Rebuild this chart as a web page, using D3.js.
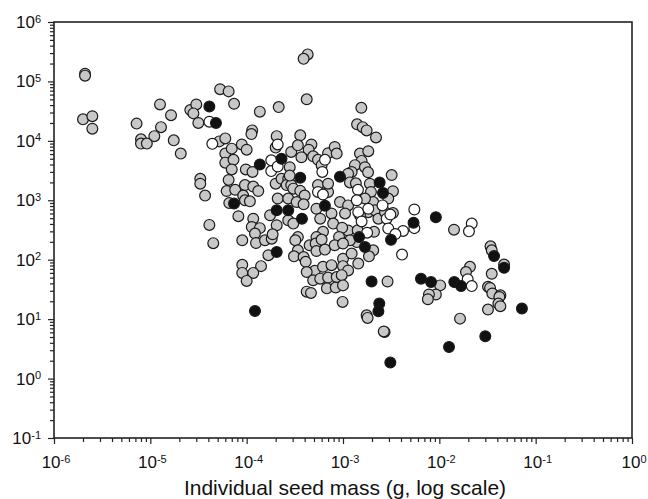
<!DOCTYPE html>
<html>
<head>
<meta charset="utf-8">
<script src="https://cdn.jsdelivr.net/npm/d3@7"></script>
<style>
  body { margin: 0; background: #fff; }
  svg { display: block; font-family: "Liberation Sans", Arial, sans-serif; }
</style>
</head>
<body>
<div class="chart-container"></div>
<script>
// seed mass (g) vs. value
var grayPoints = [
  [2.1e-6,1.35e5],[2.1e-6,1.25e5],[2.0e-6,2.3e4],[2.5e-6,2.6e4],[2.5e-6,1.6e4],
  [7.2e-6,1.95e4],[1.26e-5,4.1e4],[1.64e-5,2.7e4],[1.29e-5,1.7e4],[1.1e-5,1.2e4],
  [8.0e-6,1.06e4],[8.0e-6,9.0e3],[9.2e-6,9.0e3],[1.75e-5,1.02e4],[2.07e-5,6.1e3],
  [2.6e-5,3.3e4],[3.0e-5,4.1e4],[2.8e-5,2.9e4],[3.15e-5,2.0e4],[5.3e-5,7.4e4],
  [5.2e-5,9.8e3],[6.0e-5,1.1e4],[6.0e-5,6.1e3],[6.0e-5,4.3e3],
  [3.3e-5,2.3e3],[3.3e-5,1.9e3],[3.7e-5,1.2e3],[4.1e-5,385],[4.5e-5,190],
  [4.3e-4,2.85e5],[3.9e-4,2.4e5],[6.5e-5,6.8e4],[7.4e-5,4.2e4],[1.37e-4,3.1e4],
  [2.15e-4,3.7e4],[4.2e-4,5.0e4],[1.55e-3,3.6e4],[1.14e-4,1.5e4],[1.12e-4,1.3e4],
  [2.05e-4,1.2e4],[3.6e-4,1.24e4],[1.4e-3,1.9e4],[1.6e-3,1.7e4],[1.76e-3,1.5e4],[2.2e-3,1.14e4],
  [7.0e-5,7.4e3],[8.9e-5,8.7e3],[1.0e-4,7.1e3],[7.3e-5,4.8e3],[7.0e-5,3.3e3],
  [2.9e-4,6.5e3],[2.8e-4,3.6e3],[9.8e-5,3.3e3],[1.15e-4,3.0e3],[2.0e-4,7.7e3],
  [6.5e-5,2.2e3],[6.2e-5,1.43e3],[7.6e-5,1.5e3],[9.6e-5,1.8e3],[1.17e-4,1.7e3],[1.32e-4,1.43e3],
  [9.2e-5,1.2e3],[9.6e-5,1.0e3],[1.08e-4,960],[6.6e-5,900],
  [2.0e-4,1.9e3],[2.3e-4,2.3e3],[2.7e-4,2.3e3],[2.6e-4,1.8e3],[2.9e-4,1.8e3],[2.1e-4,1.07e3],[2.7e-4,1.07e3],
  [1.75e-4,560],[2.7e-4,460],[8.2e-5,540],[1.17e-4,490],[1.13e-4,355],[1.37e-4,340],[2.05e-4,380],
  [3.4e-4,8.4e3],[4.7e-4,8.7e3],[4.4e-4,7.1e3],[3.7e-4,5.3e3],[4.9e-4,5.5e3],[5.5e-4,4.8e3],
  [7.0e-4,6.2e3],[8.2e-4,7.9e3],[8.6e-4,6.1e3],[6.0e-4,3.9e3],
  [1.5e-3,6.1e3],[1.83e-3,6.7e3],[1.56e-3,4.6e3],[1.33e-3,3.9e3],[1.69e-3,3.6e3],[1.23e-3,3.0e3],
  [2.8e-4,2.6e3],[3.05e-4,1.57e3],[3.6e-4,1.44e3],[1.13e-3,2.8e3],[1.18e-3,2.0e3],
  [1.9e-3,1.9e3],[1.95e-3,1.38e3],[3.2e-3,2.66e3],[7.0e-4,1.38e3],[5.5e-4,1.8e3],[4.0e-4,1.2e3],[3.3e-4,935],
  [5.3e-4,720],[5.8e-4,490],[7.6e-4,600],[7.9e-4,405],[9.3e-4,935],[1.13e-3,820],[1.05e-3,600],
  [1.83e-3,630],[2.06e-3,935],[2.15e-3,680],[2.33e-3,490],[2.73e-3,630],
  [2.1e-3,295],[1.13e-3,310],[9.8e-4,345],[6.2e-4,295],[5.3e-4,240],[3.4e-4,240],[3.05e-4,405],
  [1.82e-3,2.96e3],[3.3e-3,1.42e3],[2.95e-3,1.07e3],[1.69e-3,1.07e3],[3.3e-3,610],[1.5e-3,560],
  [1.42e-2,320],[2.06e-3,144],[1.86e-3,114],[1.44e-3,86],[1.39e-3,198],[2.9e-3,43],
  [1.76e-3,11.6],[1.8e-3,10.5],[2.7e-3,6.1],[2.65e-3,6.2],
  [1.02e-2,37],[9.2e-3,26],[7.8e-3,26],[7.6e-3,21.6],[2.08e-2,76],[1.89e-2,62],[1.64e-2,10.2],
  [3.4e-2,168],[3.5e-2,144],[4.7e-2,83],[3.5e-2,58],[3.2e-2,35],[3.36e-2,33.5],[3.55e-2,27],
  [4.3e-2,25.2],[4.2e-2,23.6],[4.1e-2,18.3],[4.3e-2,16.5],[3.2e-2,14.5],
  [1.22e-4,275],[9.0e-5,212],[1.25e-4,191],[1.55e-4,212],[1.82e-4,226],[1.86e-4,268],
  [3.9e-4,856],[1.42e-3,312],[1.18e-3,212],[9.1e-4,241],[3.2e-4,212],
  [1.68e-4,119],[1.41e-4,78],[9.0e-5,82],[9.0e-5,60],[1.17e-4,60],[1.0e-4,44],
  [3.4e-4,144],[3.1e-4,114],[3.9e-4,111],[4.1e-4,92],[4.5e-4,175],[5.2e-4,187],[6.0e-4,218],
  [5.3e-4,140],[6.5e-4,148],[8.2e-4,175],[1.0e-3,187],
  [5.1e-4,65],[6.2e-4,76],[7.6e-4,81],[1.0e-3,104],[1.0e-3,78],[1.13e-3,66],[1.23e-3,127],[4.2e-4,62],
  [4.9e-4,45],[5.8e-4,48],[7.0e-4,50],[8.6e-4,51],[9.7e-4,55],[6.8e-4,33],[8.4e-4,34],[1.0e-3,37],
  [4.2e-4,29],[4.65e-4,27.6],[9.9e-4,19.5],[1.36e-3,1.93e3],[7.0e-4,1.9e3]
];

var openPoints = [
  [4.1e-5,2.1e4],[4.4e-5,8.9e3],[1.8e-4,4.7e3],[1.8e-4,3.1e3],[2.1e-4,3.7e3],[2.1e-4,8.7e3],
  [6.5e-4,4.8e3],[6.1e-4,3.0e3],[1.43e-3,1.5e3],[1.39e-3,1.0e3],[5.5e-4,1.38e3],[6.2e-4,1.25e3],
  [1.44e-3,630],[1.56e-3,440],[2.84e-3,490],[2.57e-3,820],[2.95e-3,335],[1.78e-3,285],
  [1.83e-3,720],[3.1e-3,575],[5.5e-3,700],[5.5e-3,340],[4.2e-3,305],[3.5e-3,270],
  [2.17e-2,405],[2.03e-2,300],[4.1e-3,122],[1.97e-2,47],[2.17e-2,36]
];

var blackPoints = [
  [4.1e-5,3.8e4],[4.8e-5,2.0e4],[1.37e-4,4.0e3],[2.3e-4,5.0e3],[7.4e-5,880],[2.05e-4,680],[2.7e-4,680],
  [3.6e-4,2.4e3],[9.3e-4,2.5e3],[2.4e-3,2.0e3],[2.6e-3,1.33e3],[3.75e-4,490],[6.5e-4,810],
  [1.47e-3,240],[9.2e-3,520],[5.4e-3,420],[3.15e-3,216],[1.69e-3,164],[1.98e-3,43],
  [2.38e-3,18.3],[2.33e-3,13.6],[3.1e-3,1.86],[6.45e-3,48],[8.2e-3,42],[1.43e-2,42],[1.68e-2,36],
  [1.26e-2,3.4],[3.7e-2,115],[4.7e-2,73],[7.2e-2,15.1],[3.0e-2,5.15],[2.05e-4,135],[1.22e-4,13.7]
];

var xExponents = [-6, -5, -4, -3, -2, -1, 0];
var yExponents = [-1, 0, 1, 2, 3, 4, 5, 6];
var xTitle = "Individual seed mass (g, log scale)";

var margin = {top: 22, right: 16, bottom: 61, left: 54},
    width = 648 - margin.left - margin.right,
    height = 499 - margin.top - margin.bottom;

var x = d3.scaleLog().domain([1e-6, 1]).range([0, width]),
    y = d3.scaleLog().domain([1e-1, 1e6]).range([height, 0]);

function minorTicks(exps) {
  var out = [];
  exps.slice(0, -1).forEach(function(e) {
    for (var m = 2; m <= 9; m++) out.push(m * Math.pow(10, e));
  });
  return out;
}

var svg = d3.select(".chart-container").append("svg")
    .attr("width", 648)
    .attr("height", 499);

var g = svg.append("g")
    .attr("transform", "translate(" + margin.left + "," + margin.top + ")");

var xMajor = d3.axisBottom(x).tickValues(xExponents.map(function(e) { return Math.pow(10, e); }))
    .tickSize(6).tickFormat("");
var xMinor = d3.axisBottom(x).tickValues(minorTicks(xExponents)).tickSize(4).tickFormat("");
var yMajor = d3.axisLeft(y).tickValues(yExponents.map(function(e) { return Math.pow(10, e); }))
    .tickSize(6).tickFormat("");
var yMinor = d3.axisLeft(y).tickValues(minorTicks(yExponents)).tickSize(4).tickFormat("");

[[xMajor, "x"], [xMinor, "x"], [yMajor, "y"], [yMinor, "y"]].forEach(function(a) {
  var ax = g.append("g").attr("class", a[1] + " axis");
  if (a[1] === "x") ax.attr("transform", "translate(0," + height + ")");
  ax.call(a[0]);
  ax.select(".domain").remove();
  ax.selectAll("line").attr("stroke", "#222").attr("stroke-width", 1.2);
});

// frame
g.append("rect")
    .attr("width", width)
    .attr("height", height)
    .attr("fill", "none")
    .attr("stroke", "#222")
    .attr("stroke-width", 1.6);

// tick labels as 10^n
var xl = g.append("g").selectAll("text")
    .data(xExponents)
  .enter().append("text")
    .attr("x", function(d) { return x(Math.pow(10, d)) + 2; })
    .attr("y", height + 30)
    .attr("text-anchor", "middle")
    .attr("font-size", 17)
    .attr("fill", "#111");
xl.append("tspan").text("10");
xl.append("tspan").attr("dy", "-0.5em").attr("font-size", 11).text(function(d) { return d; });

var yl = g.append("g").selectAll("text")
    .data(yExponents)
  .enter().append("text")
    .attr("x", -13)
    .attr("y", function(d) { return y(Math.pow(10, d)) + 6; })
    .attr("text-anchor", "end")
    .attr("font-size", 17)
    .attr("fill", "#111");
yl.append("tspan").text("10");
yl.append("tspan").attr("dy", "-0.5em").attr("font-size", 11).text(function(d) { return d; });

g.append("text")
    .attr("x", width / 2 + 2)
    .attr("y", height + 57)
    .attr("text-anchor", "middle")
    .attr("font-size", 21)
    .attr("fill", "#111")
    .text(xTitle);

// points
var groups = [
  {data: grayPoints, fill: "#c8c8c8"},
  {data: openPoints, fill: "#ffffff"},
  {data: blackPoints, fill: "#111111"}
];

groups.forEach(function(s) {
  g.append("g").selectAll("circle")
      .data(s.data)
    .enter().append("circle")
      .attr("cx", function(d) { return x(d[0]); })
      .attr("cy", function(d) { return y(d[1]); })
      .attr("r", 5.4)
      .attr("fill", s.fill)
      .attr("stroke", "#1a1a1a")
      .attr("stroke-width", 1.2);
});
</script>
</body>
</html>
